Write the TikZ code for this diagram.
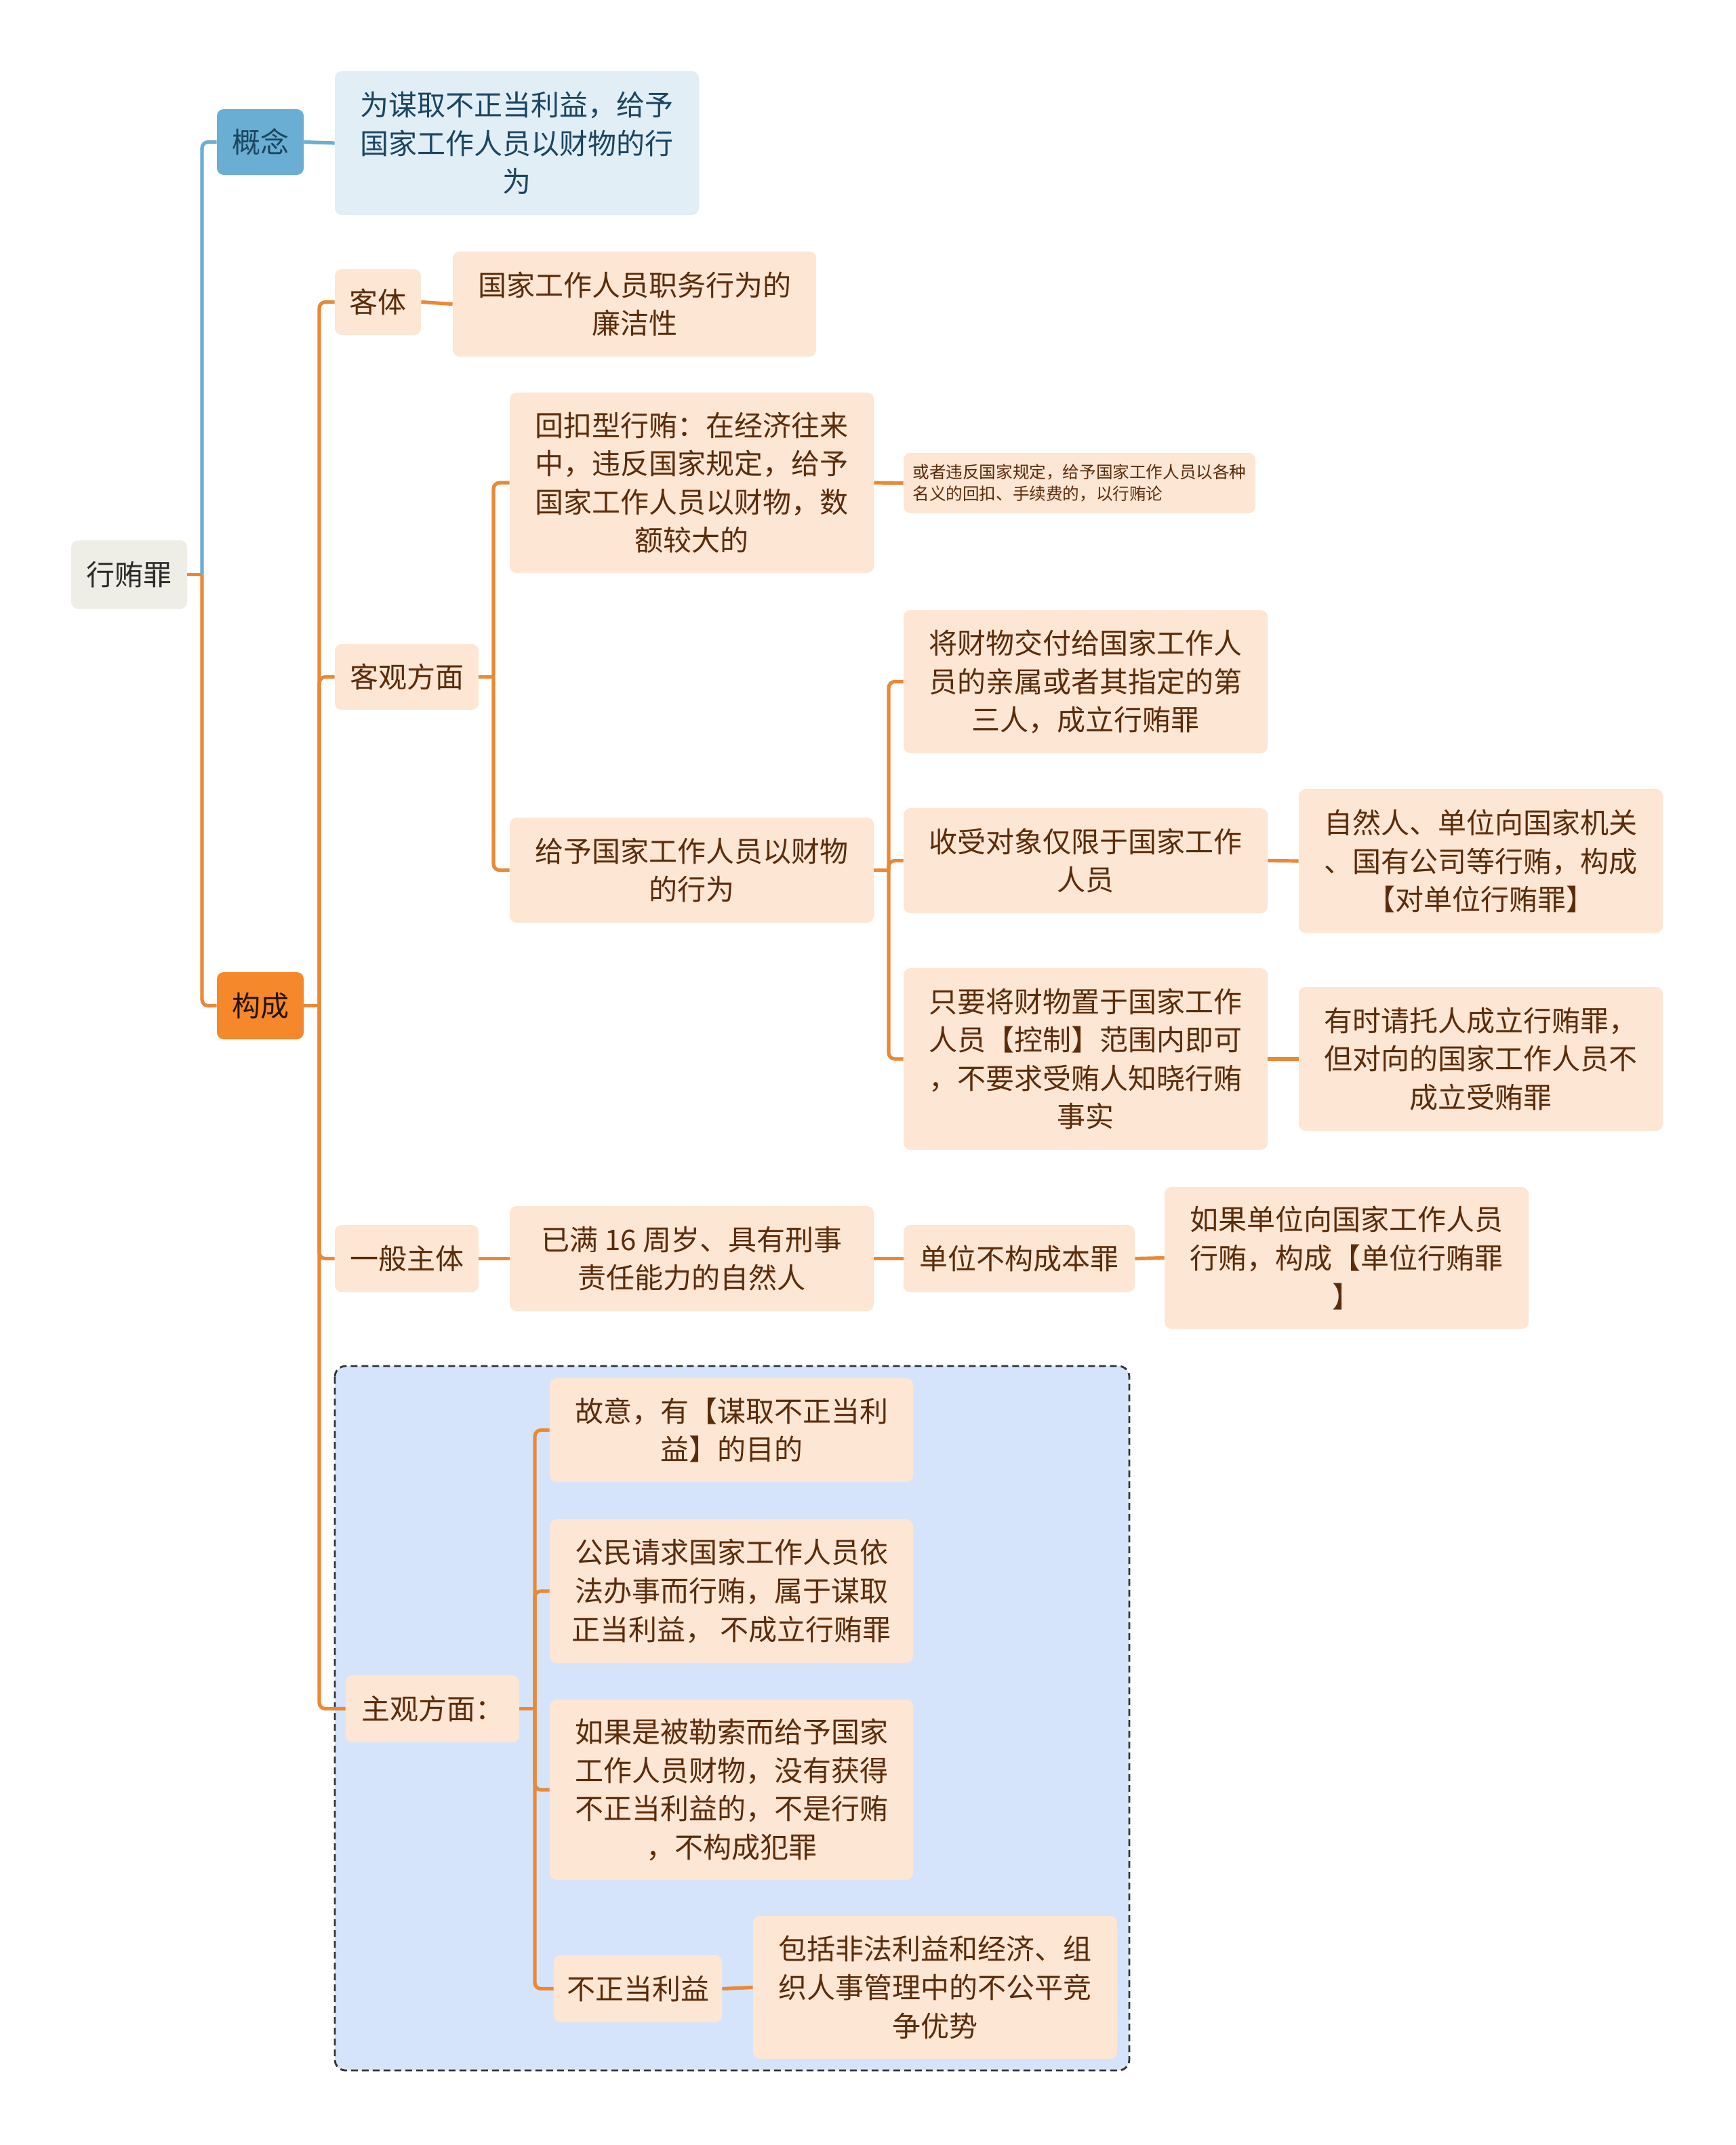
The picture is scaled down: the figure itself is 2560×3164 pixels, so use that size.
\documentclass[tikz,border=0pt]{standalone}
\usepackage{fontspec}
\setmainfont{Noto Sans CJK SC}
\definecolor{peach}{HTML}{FDE6D4}
\definecolor{brownT}{HTML}{5B2C0A}
\definecolor{orangeL}{HTML}{EA8935}
\definecolor{blueL}{HTML}{6AAED3}
\definecolor{blueN}{HTML}{6AAED3}
\definecolor{blueP}{HTML}{E1EEF6}
\definecolor{navyT}{HTML}{1B4560}
\definecolor{rootF}{HTML}{EEEEE6}
\definecolor{rootT}{HTML}{2B2B2B}
\definecolor{orangeN}{HTML}{F5882A}
\definecolor{zoneF}{HTML}{D6E4FB}
\begin{document}
\begin{tikzpicture}[x=0.5pt,y=-0.5pt,
  base/.style={rounded corners=5pt, inner sep=0pt, align=center, font=\fontsize{21}{28.3}\selectfont},
  pk/.style={base, fill=peach, text=brownT},
  sz/.style 2 args={minimum width=#1*0.5pt, minimum height=#2*0.5pt},
  conn/.style={draw=orangeL, line width=2.6pt, rounded corners=4.5pt},
  connb/.style={draw=blueL, line width=2.6pt, rounded corners=4.5pt},
  note/.style={base, fill=peach, text=brownT, align=left, font=\fontsize{12.3}{16}\selectfont}]
\useasboundingbox (0,0) rectangle (2560,3164);
\fill[white] (0,0) rectangle (2560,3164);

% dashed zone
\draw[fill=zoneF, draw=black!80, line width=1.4pt, dash pattern=on 5pt off 3pt, rounded corners=8pt] (494,2015) rectangle (1666,3054);

% nodes
\node[base, fill=rootF, text=rootT, sz={171}{101}] (root) at (190.5,847.5) {行贿罪};
\node[base, fill=blueN, text=navyT, sz={128}{97}] (gn) at (384,209.5) {概念};
\node[base, fill=blueP, text=navyT, sz={537}{212}] (gnd) at (762.5,211) {为谋取不正当利益，给予\\国家工作人员以财物的行\\为};
\node[base, fill=orangeN, text=black!85!orange, sz={128}{99}] (gc) at (384,1483.5) {构成};

\node[pk, sz={127}{97}] (kt) at (557.5,445.5) {客体};
\node[pk, sz={536}{155}] (ktd) at (936,448.5) {国家工作人员职务行为的\\廉洁性};

\node[pk, sz={212}{97}] (kg) at (600,998.5) {客观方面};
\node[pk, sz={537}{266}] (hk) at (1020.5,712) {回扣型行贿：在经济往来\\中，违反国家规定，给予\\国家工作人员以财物，数\\额较大的};
\node[note, sz={519}{89}] (hkn) at (1592.5,712.5) {或者违反国家规定，给予国家工作人员以各种\\名义的回扣、手续费的，以行贿论};
\node[pk, sz={537}{155}] (gy) at (1020.5,1283.5) {给予国家工作人员以财物\\的行为};
\node[pk, sz={537}{211}] (jc) at (1601.5,1005.5) {将财物交付给国家工作人\\员的亲属或者其指定的第\\三人，成立行贿罪};
\node[pk, sz={537}{155}] (ss) at (1601.5,1269.5) {收受对象仅限于国家工作\\人员};
\node[pk, sz={537}{212}] (zr) at (2184.5,1270) {自然人、单位向国家机关\\、国有公司等行贿，构成\\【对单位行贿罪】};
\node[pk, sz={537}{268}] (zy) at (1601.5,1562) {只要将财物置于国家工作\\人员【控制】范围内即可\\，不要求受贿人知晓行贿\\事实};
\node[pk, sz={537}{212}] (ys) at (2184.5,1562) {有时请托人成立行贿罪，\\但对向的国家工作人员不\\成立受贿罪};

\node[pk, sz={212}{99}] (yb) at (600,1856.5) {一般主体};
\node[pk, sz={537}{155}] (ym) at (1020.5,1856.5) {已满 16 周岁、具有刑事\\责任能力的自然人};
\node[pk, sz={341}{99}] (dw) at (1503.5,1856.5) {单位不构成本罪};
\node[pk, sz={537}{209}] (rg) at (1986.5,1855.5) {如果单位向国家工作人员\\行贿，构成【单位行贿罪\\】};

\node[pk, sz={256}{99}] (zg) at (638,2520.5) {主观方面：};
\node[pk, sz={536}{153}] (gy1) at (1079,2109.5) {故意，有【谋取不正当利\\益】的目的};
\node[pk, sz={536}{212}] (gm) at (1079,2347) {公民请求国家工作人员依\\法办事而行贿，属于谋取\\正当利益， 不成立行贿罪};
\node[pk, sz={536}{266}] (rb) at (1079,2640) {如果是被勒索而给予国家\\工作人员财物，没有获得\\不正当利益的，不是行贿\\，不构成犯罪};
\node[pk, sz={248}{99}] (bz) at (941,2933.5) {不正当利益};
\node[pk, sz={537}{211}] (bk) at (1379.5,2931.5) {包括非法利益和经济、组\\织人事管理中的不公平竞\\争优势};

% trunk coordinates
\coordinate (t0) at (298,847.5);
\coordinate (t1) at (471,1483.5);
\coordinate (t2) at (728,998.5);
\coordinate (t3) at (1311,1283.5);
\coordinate (t4) at (789,2520.5);

% root
\draw[connb] (t0) |- (gn.west);
\draw[conn] (t0) |- (gc.west);
\draw[conn, rounded corners=0pt] (root.east) -- (t0);
\draw[connb] (gn.east) -- (gnd.west);

% 构成
\draw[conn, rounded corners=0pt] (gc.east) -- (t1);
\draw[conn] (t1) |- (kt.west);
\draw[conn] (t1) |- (kg.west);
\draw[conn] (t1) |- (yb.west);
\draw[conn] (t1) |- (zg.west);

\draw[conn] (kt.east) -- (ktd.west);

% 客观方面
\draw[conn, rounded corners=0pt] (kg.east) -- (t2);
\draw[conn] (t2) |- (hk.west);
\draw[conn] (t2) |- (gy.west);
\draw[conn] (hk.east) -- (hkn.west);

\draw[conn, rounded corners=0pt] (gy.east) -- (t3);
\draw[conn] (t3) |- (jc.west);
\draw[conn] (t3) |- (ss.west);
\draw[conn] (t3) |- (zy.west);
\draw[conn] (ss.east) -- (zr.west);
\draw[conn] (zy.east) -- (ys.west);

% 一般主体
\draw[conn] (yb.east) -- (ym.west);
\draw[conn] (ym.east) -- (dw.west);
\draw[conn] (dw.east) -- (rg.west);

% 主观方面
\draw[conn, rounded corners=0pt] (zg.east) -- (t4);
\draw[conn] (t4) |- (gy1.west);
\draw[conn] (t4) |- (gm.west);
\draw[conn] (t4) |- (rb.west);
\draw[conn] (t4) |- (bz.west);
\draw[conn] (bz.east) -- (bk.west);
\end{tikzpicture}
\end{document}
